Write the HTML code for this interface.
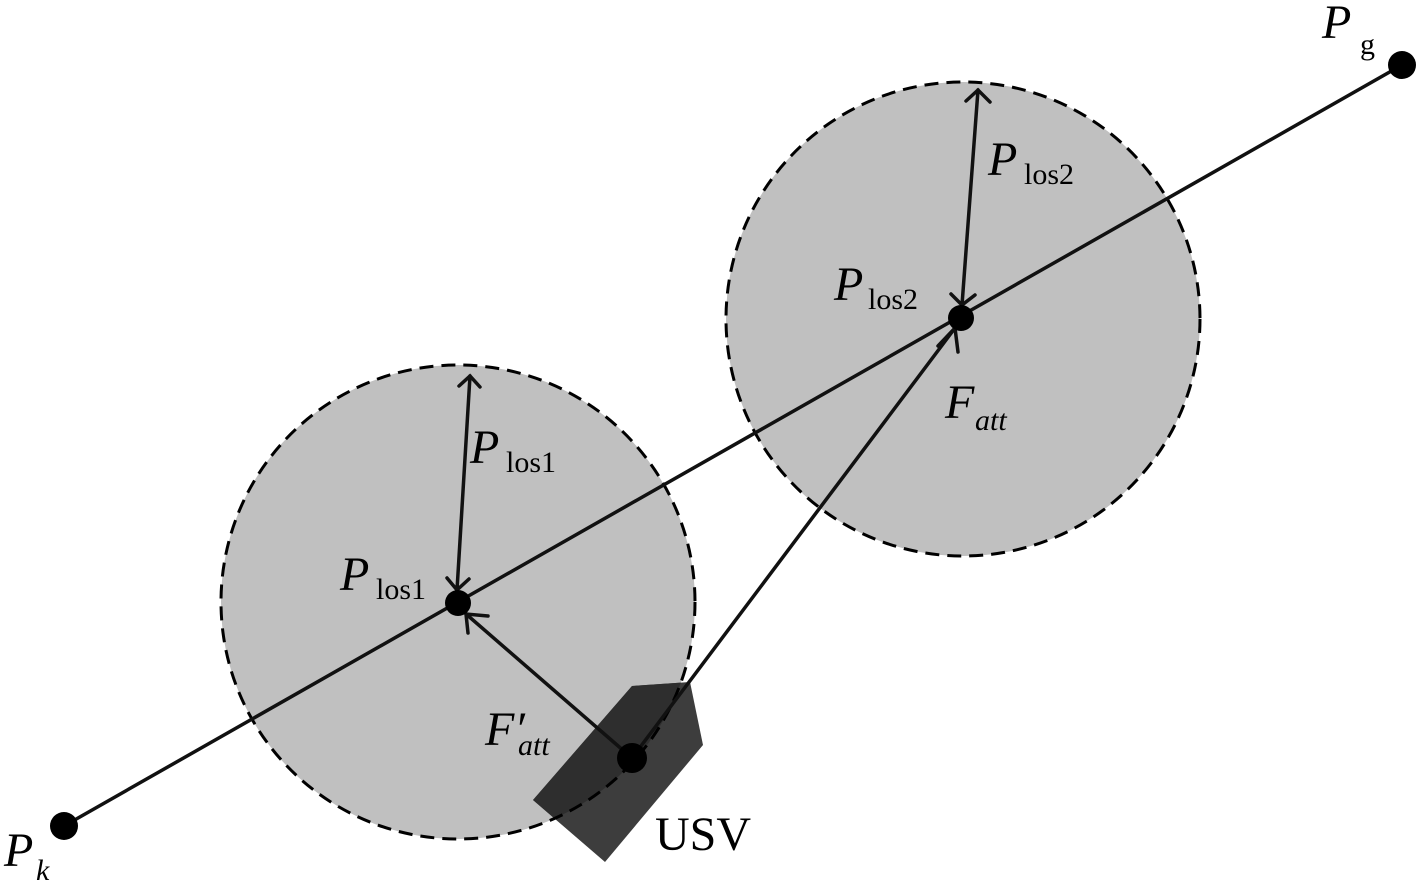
<!DOCTYPE html>
<html><head><style>html,body{margin:0;padding:0;background:#fff;width:1419px;height:882px;overflow:hidden}</style></head>
<body>
<svg width="1419" height="882" viewBox="0 0 1419 882" xmlns="http://www.w3.org/2000/svg" font-family="Liberation Serif, serif">
<defs>
<clipPath id="c1"><circle cx="458" cy="602" r="237"/></clipPath>
</defs>
<circle cx="458" cy="602" r="237" fill="#c0c0c0"/>
<circle cx="963" cy="319" r="237" fill="#c0c0c0"/>
<polygon points="533,800 632,686 690,682 703,745 605,862" fill="#3d3d3d"/>
<polygon points="533,800 632,686 690,682 703,745 605,862" fill="#2e2e2e" clip-path="url(#c1)"/>
<circle cx="458" cy="602" r="237" fill="none" stroke="#000" stroke-width="3" stroke-dasharray="14,8"/>
<circle cx="963" cy="319" r="237" fill="none" stroke="#000" stroke-width="3" stroke-dasharray="14,8"/>
<g stroke="#111" stroke-width="3.5" fill="none" stroke-linecap="round">
<line x1="64" y1="826" x2="1402" y2="65"/>
<line x1="632" y1="758" x2="955" y2="328"/>
<polyline points="938,346 955,328 958,352"/>
<line x1="632" y1="758" x2="466" y2="614"/>
<polyline points="468,633 466,614 488,616"/>
<line x1="470" y1="376" x2="457" y2="590"/>
<polyline points="459,386 470,376 480,387"/>
<polyline points="447,578 457,590 469,579"/>
<line x1="978" y1="90" x2="962" y2="305"/>
<polyline points="966,101 978,90 990,102"/>
<polyline points="951,294 962,305 975,295"/>
</g>
<g fill="#000">
<circle cx="64" cy="826" r="14"/>
<circle cx="1402" cy="65" r="14"/>
<circle cx="458" cy="603" r="13"/>
<circle cx="961" cy="318" r="13"/>
<circle cx="632" cy="758" r="15"/>
</g>
<g font-size="48" fill="#000">
<text x="1322" y="38" font-style="italic">P</text><text x="1360" y="54" font-size="30">g</text>
<text x="4" y="866" font-style="italic">P</text><text x="36" y="880" font-size="30" font-style="italic">k</text>
<text x="988" y="175" font-style="italic">P</text><text x="1024" y="184" font-size="30">los2</text>
<text x="834" y="300" font-style="italic">P</text><text x="868" y="309" font-size="30">los2</text>
<text x="470" y="463" font-style="italic">P</text><text x="506" y="472" font-size="30">los1</text>
<text x="340" y="590" font-style="italic">P</text><text x="376" y="599" font-size="30">los1</text>
<text x="945" y="418" font-style="italic">F</text><text x="975" y="430" font-size="30" font-style="italic">att</text>
<text x="485" y="745" font-style="italic">F′</text><text x="518" y="755" font-size="30" font-style="italic">att</text>
<text x="655" y="850">USV</text>
</g>
</svg>
</body></html>
